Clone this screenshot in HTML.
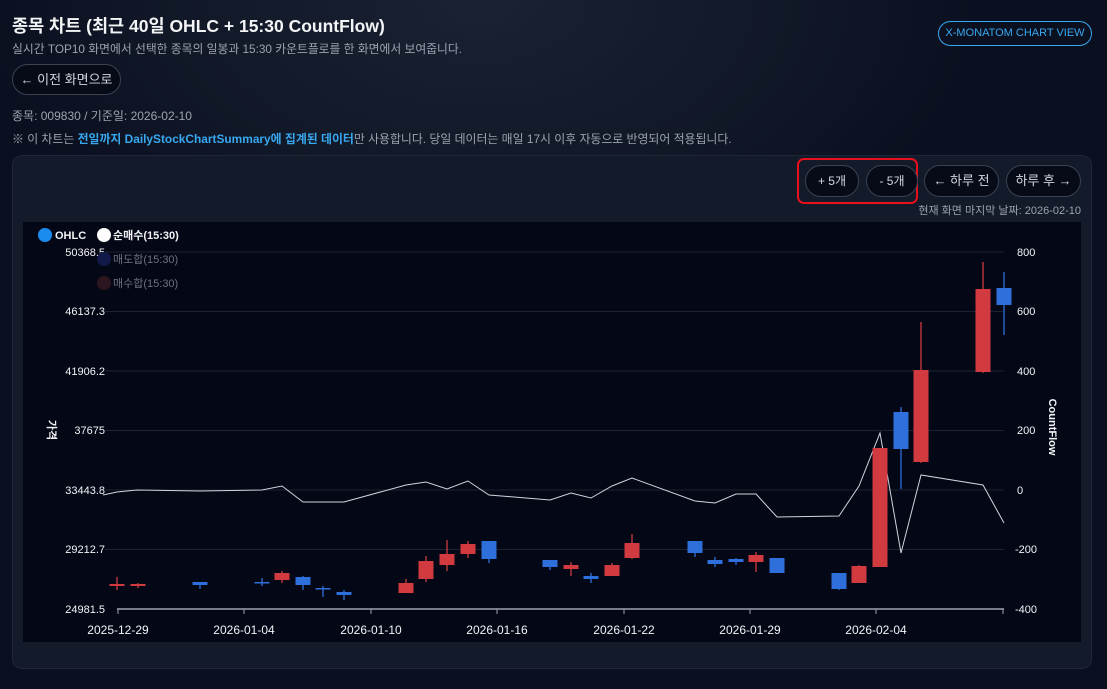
<!DOCTYPE html>
<html><head><meta charset="utf-8"><style>
*{margin:0;padding:0;box-sizing:border-box}
body{width:1107px;height:689px;overflow:hidden;background:radial-gradient(ellipse 500px 300px at 480px 0px,#1a2233 0%,#111827 60%,#0b1020 100%);font-family:"Liberation Sans","Noto Sans CJK KR",sans-serif;color:#e5e7eb;position:relative}
.a{position:absolute;white-space:nowrap}
.btn{position:absolute;border:1px solid #3a4252;border-radius:16px;background:#070b18;color:#d1d5db;font-size:12px;text-align:center}
</style></head><body>
<div class="a" style="left:12px;top:13px;font-size:17.5px;font-weight:bold;color:#f3f4f6">종목 차트 (최근 40일 OHLC + 15:30 CountFlow)</div>
<div class="a" style="left:12px;top:40px;font-size:11.8px;color:#9ca3af">실시간 TOP10 화면에서 선택한 종목의 일봉과 15:30 카운트플로를 한 화면에서 보여줍니다.</div>
<div class="btn" style="left:12px;top:64px;width:109px;height:31px;line-height:29px;font-size:13px">← 이전 화면으로</div>
<div class="a" style="left:12px;top:107px;font-size:12px;color:#9ca3af">종목: 009830 / 기준일: 2026-02-10</div>
<div class="a" style="left:12px;top:130px;font-size:11.9px;color:#9ca3af">※ 이 차트는 <b style="color:#38a8f0">전일까지 DailyStockChartSummary에 집계된 데이터</b>만 사용합니다. 당일 데이터는 매일 17시 이후 자동으로 반영되어 적용됩니다.</div>
<div class="a" style="left:938px;top:21px;width:154px;height:25px;border:1px solid #38a8f0;border-radius:13px;color:#38a8f0;font-size:11px;text-align:center;line-height:23px">X-MONATOM CHART VIEW</div>
<div style="position:absolute;left:12px;top:155px;width:1080px;height:514px;background:#131a2a;border:1px solid #1e2738;border-radius:10px"></div>
<div style="position:absolute;left:797px;top:158px;width:121px;height:46px;border:2px solid #e8101c;border-radius:7px"></div>
<div class="btn" style="left:805px;top:165px;width:54px;height:32px;line-height:30px">+ 5개</div>
<div class="btn" style="left:866px;top:165px;width:52px;height:32px;line-height:30px">- 5개</div>
<div class="btn" style="left:924px;top:165px;width:75px;height:32px;line-height:30px;font-size:13px">← 하루 전</div>
<div class="btn" style="left:1006px;top:165px;width:75px;height:32px;line-height:30px;font-size:13px">하루 후 →</div>
<div class="a" style="right:26px;top:202px;font-size:11px;color:#9ca3af">현재 화면 마지막 날짜: 2026-02-10</div>
<svg style="position:absolute;left:0;top:0" width="1107" height="689" font-family="Liberation Sans, Noto Sans CJK KR, sans-serif">
<rect x="23" y="222" width="1058" height="420" fill="#040716"/>
<g stroke="#1d2333" stroke-width="1">
<line x1="105" x2="1004" y1="252" y2="252"/><line x1="105" x2="1004" y1="311.5" y2="311.5"/><line x1="105" x2="1004" y1="371" y2="371"/><line x1="105" x2="1004" y1="430.5" y2="430.5"/><line x1="105" x2="1004" y1="490" y2="490"/><line x1="105" x2="1004" y1="549.5" y2="549.5"/>
</g>
<line x1="117" x2="1004" y1="609" y2="609" stroke="#9ca3af" stroke-width="1.5"/>
<g stroke="#9ca3af"><line x1="118" x2="118" y1="609" y2="614"/><line x1="244" x2="244" y1="609" y2="614"/><line x1="371" x2="371" y1="609" y2="614"/><line x1="497" x2="497" y1="609" y2="614"/><line x1="624" x2="624" y1="609" y2="614"/><line x1="750" x2="750" y1="609" y2="614"/><line x1="876" x2="876" y1="609" y2="614"/><line x1="1003" x2="1003" y1="609" y2="614"/></g>
<g fill="#f3f4f6" font-size="11" text-anchor="end">
<text x="105" y="256">50368.5</text><text x="105" y="315">46137.3</text><text x="105" y="375">41906.2</text><text x="105" y="434">37675</text><text x="105" y="494">33443.8</text><text x="105" y="553">29212.7</text><text x="105" y="613">24981.5</text></g>
<g fill="#f3f4f6" font-size="11"><text x="1017" y="256">800</text><text x="1017" y="315">600</text><text x="1017" y="375">400</text><text x="1017" y="434">200</text><text x="1017" y="494">0</text><text x="1015" y="553">-200</text><text x="1015" y="613">-400</text></g>
<g fill="#f3f4f6" font-size="12" text-anchor="middle"><text x="118" y="634">2025-12-29</text><text x="244" y="634">2026-01-04</text><text x="371" y="634">2026-01-10</text><text x="497" y="634">2026-01-16</text><text x="624" y="634">2026-01-22</text><text x="750" y="634">2026-01-29</text><text x="876" y="634">2026-02-04</text></g>
<text transform="translate(48,430) rotate(90)" fill="#f3f4f6" font-size="11" font-weight="bold" text-anchor="middle">가격</text>
<text transform="translate(1049,427) rotate(90)" fill="#f3f4f6" font-size="11" font-weight="bold" text-anchor="middle">CountFlow</text>
<circle cx="45" cy="235" r="7" fill="#1a8cf0"/><text x="55" y="239" fill="#f3f4f6" font-size="11" font-weight="bold">OHLC</text>
<circle cx="104" cy="235" r="7" fill="#fff"/><text x="113" y="239" fill="#f3f4f6" font-size="11" font-weight="bold">순매수(15:30)</text>
<circle cx="104" cy="259" r="7" fill="#111a48"/><text x="113" y="263" fill="#6b7280" font-size="11">매도합(15:30)</text>
<circle cx="104" cy="283" r="7" fill="#2e1620"/><text x="113" y="287" fill="#6b7280" font-size="11">매수합(15:30)</text>
<polyline fill="none" stroke="#d1d5db" stroke-width="1" points="103,495 117,492 137,490 200,491 262,490 282,486 303,502 324,502 344,502 406,485 426,482 447,489 468,481 489,495 550,500 571,493 591,498 612,486 632,478 695,501 715,503 736,494 756,494 777,517 839,516 859,486 880,433 901,553 921,475 983,485 1004,523"/>
<g id="c"></g>
</svg>
<script>
var d=[[117,'r',584,586,577,590],[138,'r',584,586,583,588],[200,'b',582,585,582,589],[262,'b',582,583,578,586],[282,'r',573,580,571,583],[303,'b',577,585,576,590],[323,'b',588,589,586,597],[344,'b',592,595,590,600],[406,'r',583,593,579,593],[426,'r',561,579,556,582],[447,'r',554,565,540,571],[468,'r',544,554,541,558],[489,'b',541,559,541,563],[550,'b',560,567,560,570],[571,'r',565,569,562,576],[591,'b',576,579,573,583],[612,'r',565,576,563,576],[632,'r',543,558,534,559],[695,'b',541,553,541,557],[715,'b',560,564,557,567],[736,'b',559,562,558,565],[756,'r',555,562,552,572],[777,'b',558,573,558,573],[839,'b',573,589,573,590],[859,'r',566,583,565,583],[880,'r',448,567,448,567],[901,'b',412,449,407,489],[921,'r',370,462,322,463],[983,'r',289,372,262,373],[1004,'b',288,305,272,335]];
var s='';d.forEach(function(c){var col=c[1]=='r'?'#d13b40':'#2f6fdb';var h=Math.max(c[3]-c[2],1.5);s+='<line x1="'+c[0]+'" x2="'+c[0]+'" y1="'+c[4]+'" y2="'+c[5]+'" stroke="'+col+'" stroke-width="1.3"/><rect x="'+(c[0]-7.5)+'" y="'+c[2]+'" width="15" height="'+h+'" fill="'+col+'"/>';});
document.getElementById('c').innerHTML=s;
</script>
</body></html>
